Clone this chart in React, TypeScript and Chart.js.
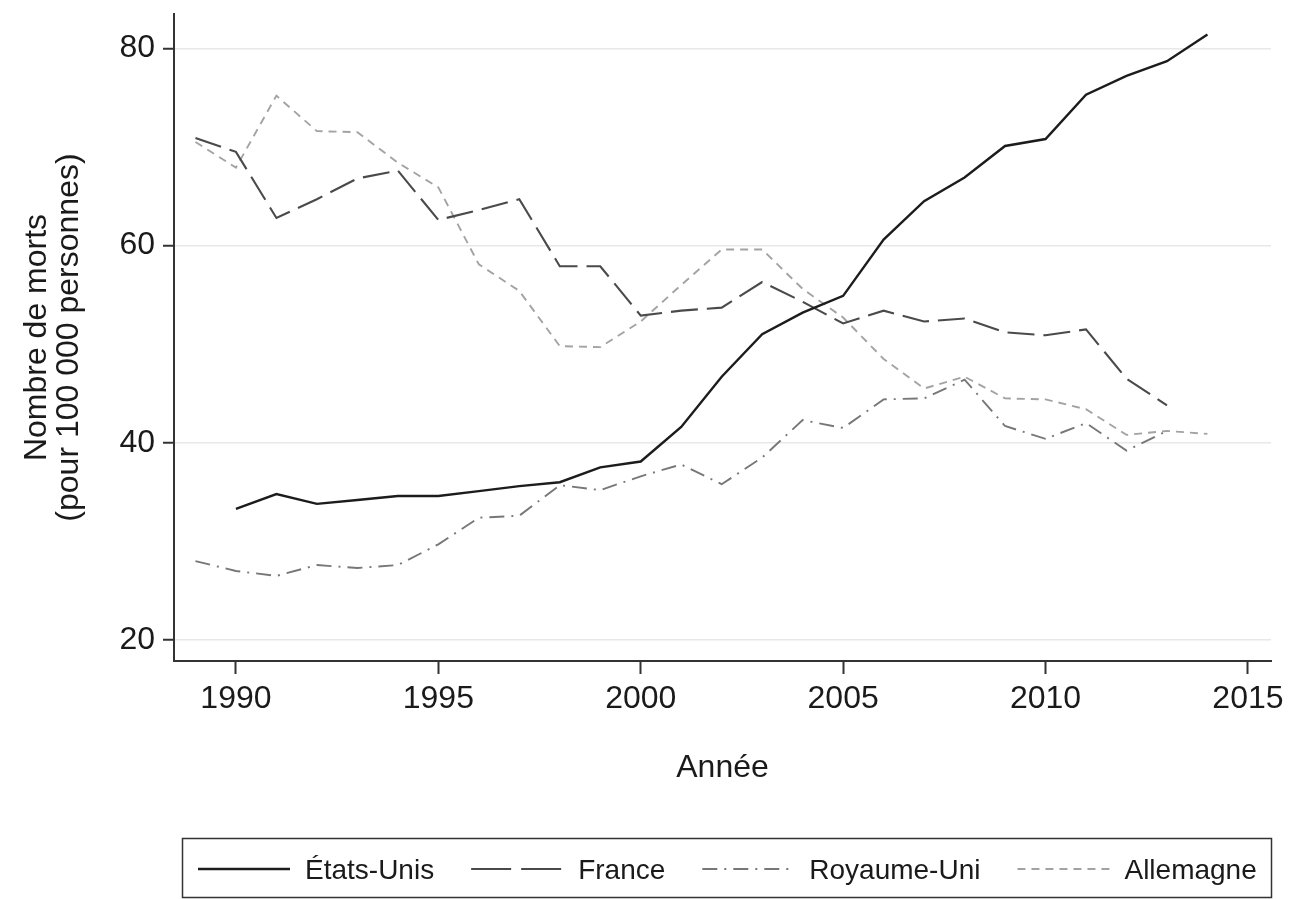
import React, { useEffect, useRef } from 'react';
import { Chart, registerables } from 'chart.js';

Chart.register(...registerables);

// ---- Data ----
const yearsUS = [1990, 1991, 1992, 1993, 1994, 1995, 1996, 1997, 1998, 1999, 2000, 2001, 2002, 2003, 2004, 2005, 2006, 2007, 2008, 2009, 2010, 2011, 2012, 2013, 2014];
const valuesUS = [33.3, 34.8, 33.8, 34.2, 34.6, 34.6, 35.1, 35.6, 36.0, 37.5, 38.1, 41.6, 46.7, 51.0, 53.2, 54.9, 60.6, 64.5, 66.9, 70.1, 70.8, 75.3, 77.2, 78.7, 81.4];

const yearsFR = [1989, 1990, 1991, 1992, 1993, 1994, 1995, 1996, 1997, 1998, 1999, 2000, 2001, 2002, 2003, 2004, 2005, 2006, 2007, 2008, 2009, 2010, 2011, 2012, 2013];
const valuesFR = [70.9, 69.5, 62.8, 64.7, 66.8, 67.6, 62.6, 63.6, 64.7, 57.9, 57.9, 52.9, 53.4, 53.7, 56.3, 54.3, 52.1, 53.4, 52.3, 52.6, 51.2, 50.9, 51.5, 46.5, 43.8];

const yearsUK = [1989, 1990, 1991, 1992, 1993, 1994, 1995, 1996, 1997, 1998, 1999, 2000, 2001, 2002, 2003, 2004, 2005, 2006, 2007, 2008, 2009, 2010, 2011, 2012, 2013];
const valuesUK = [28.0, 27.0, 26.5, 27.6, 27.3, 27.6, 29.7, 32.4, 32.6, 35.7, 35.2, 36.6, 37.8, 35.8, 38.5, 42.3, 41.5, 44.4, 44.5, 46.4, 41.7, 40.4, 42.0, 39.2, 41.2];

const yearsDE = [1989, 1990, 1991, 1992, 1993, 1994, 1995, 1996, 1997, 1998, 1999, 2000, 2001, 2002, 2003, 2004, 2005, 2006, 2007, 2008, 2009, 2010, 2011, 2012, 2013, 2014];
const valuesDE = [70.5, 67.9, 75.2, 71.6, 71.5, 68.4, 65.9, 58.1, 55.4, 49.8, 49.7, 52.3, 56.0, 59.6, 59.6, 55.6, 52.7, 48.5, 45.5, 46.7, 44.5, 44.4, 43.4, 40.8, 41.2, 40.9];

const seriesLabels = ['États-Unis', 'France', 'Royaume-Uni', 'Allemagne'];
const xTickValues = [1990, 1995, 2000, 2005, 2010, 2015];
const yTickValues = [20, 40, 60, 80];
const xTitle = 'Année';
const yTitle = ['Nombre de morts', '(pour 100 000 personnes)'];

const FONT = '"Liberation Sans", Arial, Helvetica, sans-serif';
const TEXT = '#1a1a1a';
const AXIS = '#333333';

const toPoints = (xs: number[], ys: number[]) => xs.map((x, i) => ({ x, y: ys[i] }));

const legendBoxPlugin = {
  id: 'legendBox',
  afterDraw(chart: any) {
    const ctx = chart.ctx;
    ctx.save();
    ctx.strokeStyle = AXIS;
    ctx.lineWidth = 1.5;
    ctx.setLineDash([]);
    ctx.strokeRect(182.5, 838.5, 1089, 59);
    ctx.font = `28px ${FONT}`;
    ctx.textBaseline = 'middle';
    ctx.textAlign = 'left';
    const y = 869;
    let x = 198;
    const sampleLen = 92;
    chart.data.datasets.forEach((ds: any) => {
      ctx.strokeStyle = ds.borderColor;
      ctx.lineWidth = ds.borderWidth;
      ctx.setLineDash(ds.legendDash || ds.borderDash || []);
      ctx.beginPath();
      ctx.moveTo(x, y);
      ctx.lineTo(x + sampleLen, y);
      ctx.stroke();
      ctx.setLineDash([]);
      ctx.fillStyle = TEXT;
      ctx.fillText(ds.label, x + sampleLen + 15, y + 2);
      x += sampleLen + 15 + ctx.measureText(ds.label).width + 37;
    });
    ctx.restore();
  },
};

export default function App() {
  const canvasRef = useRef<HTMLCanvasElement | null>(null);

  useEffect(() => {
    const canvas = canvasRef.current;
    if (!canvas) return;
    const chart = new Chart(canvas, {
      type: 'line',
      data: {
        datasets: [
          {
            label: seriesLabels[0],
            data: toPoints(yearsUS, valuesUS),
            borderColor: '#1c1c1c',
            borderWidth: 2.4,
            borderDash: [],
            pointRadius: 0,
            fill: false,
            tension: 0,
          },
          {
            label: seriesLabels[1],
            data: toPoints(yearsFR, valuesFR),
            borderColor: '#4a4a4a',
            borderWidth: 2.1,
            borderDash: [27, 9],
            legendDash: [40, 10],
            pointRadius: 0,
            fill: false,
            tension: 0,
          },
          {
            label: seriesLabels[2],
            data: toPoints(yearsUK, valuesUK),
            borderColor: '#777777',
            borderWidth: 1.9,
            borderDash: [15, 7, 2, 7],
            pointRadius: 0,
            fill: false,
            tension: 0,
          },
          {
            label: seriesLabels[3],
            data: toPoints(yearsDE, valuesDE),
            borderColor: '#a3a3a3',
            borderWidth: 1.9,
            borderDash: [8, 6],
            pointRadius: 0,
            fill: false,
            tension: 0,
          },
        ] as any,
      },
      options: {
        animation: false,
        responsive: false,
        events: [],
        layout: { padding: { top: 14, left: 0, right: 21, bottom: 108 } },
        plugins: {
          legend: { display: false },
          tooltip: { enabled: false },
        },
        scales: {
          x: {
            type: 'linear',
            min: 1988.47,
            max: 2015.57,
            afterBuildTicks: (scale: any) => {
              scale.ticks = xTickValues.map((v) => ({ value: v }));
            },
            afterFit: (scale: any) => {
              scale.height = 130;
            },
            ticks: {
              autoSkip: false,
              maxRotation: 0,
              padding: 6,
              color: TEXT,
              font: { family: FONT, size: 32 },
              callback: (v: any) => String(v),
            },
            grid: {
              drawOnChartArea: false,
              drawTicks: true,
              tickLength: 13,
              tickColor: AXIS,
              tickWidth: 2,
            },
            border: { display: true, color: AXIS, width: 2 },
            title: {
              display: true,
              text: xTitle,
              color: TEXT,
              font: { family: FONT, size: 32, lineHeight: 1.0 },
              padding: { top: 0, bottom: 7 },
            },
          },
          y: {
            type: 'linear',
            min: 17.87,
            max: 83.48,
            afterBuildTicks: (scale: any) => {
              scale.ticks = yTickValues.map((v) => ({ value: v }));
            },
            afterFit: (scale: any) => {
              scale.width = 174;
            },
            ticks: {
              padding: 8,
              color: TEXT,
              font: { family: FONT, size: 32, lineHeight: 0.2 },
              callback: (v: any) => String(v),
            },
            grid: {
              color: '#e8e8e8',
              lineWidth: 1.5,
              drawTicks: true,
              tickLength: 11,
              tickColor: AXIS,
              tickWidth: 2,
            },
            border: { display: true, color: AXIS, width: 2 },
            title: {
              display: true,
              text: yTitle,
              color: TEXT,
              font: { family: FONT, size: 32, lineHeight: 1.0 },
              padding: { top: 21, bottom: 0 },
            },
          },
        },
      } as any,
      plugins: [legendBoxPlugin as any],
    });
    return () => chart.destroy();
  }, []);

  return (
    <div style={{ position: 'fixed', left: 0, top: 0, width: 1292, height: 899, background: '#ffffff', overflow: 'hidden' }}>
      <canvas ref={canvasRef} width={1292} height={899} style={{ display: 'block', width: 1292, height: 899 }} />
    </div>
  );
}
